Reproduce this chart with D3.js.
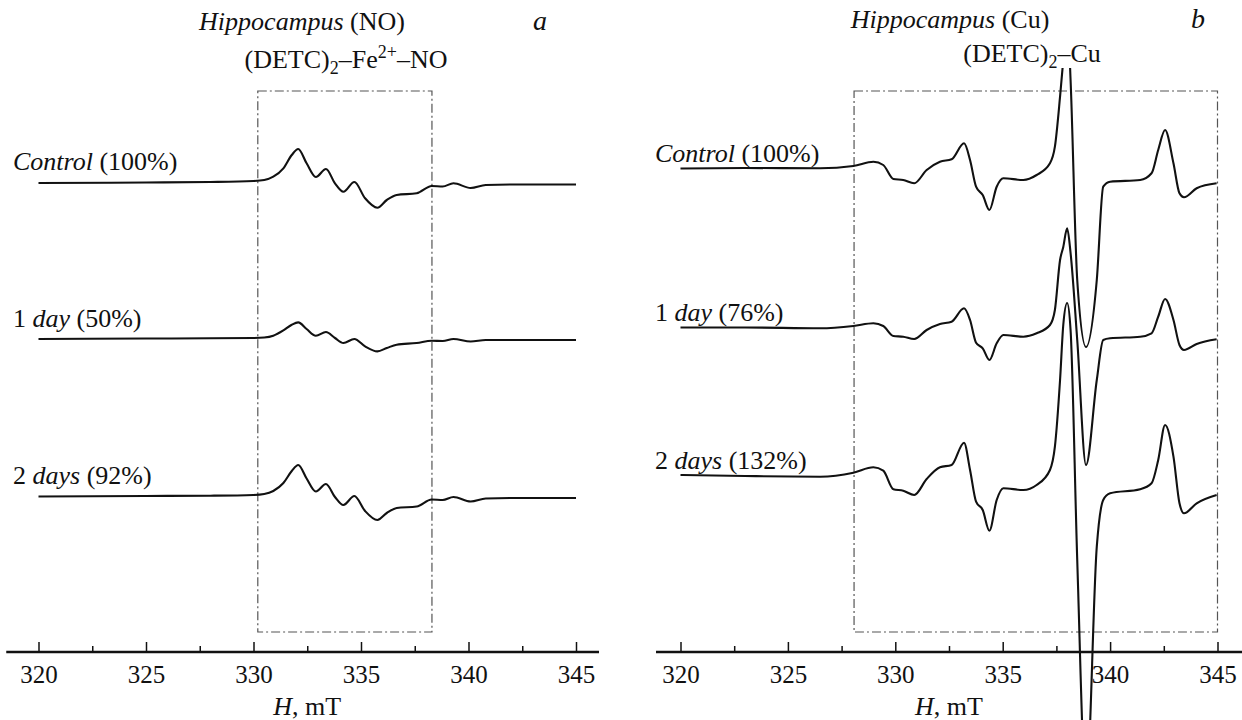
<!DOCTYPE html>
<html lang="en">
<head>
<meta charset="UTF-8">
<title>EPR spectra, hippocampus</title>
<script src="https://d3js.org/d3.v7.min.js"></script>
<style>
  body { margin: 0; background: #fff; }
  svg text { font-family: "Liberation Serif", "DejaVu Serif", serif; fill: #111; }
</style>
</head>
<body>
<svg id="chart" width="1242" height="720" font-family="Liberation Serif, DejaVu Serif, serif"></svg>
<script>
// field axis (mT)
const majorTicks = [320, 325, 330, 335, 340, 345];
const minorTicks = [322.5, 327.5, 332.5, 337.5, 342.5];

// panel a: (DETC)2-Fe2+-NO, signal relative to each trace baseline (a.u.)
const noField   = [320, 325, 328, 330, 330.5, 330.92, 331.39, 331.78, 332.08, 332.47, 332.9, 333.37, 333.79, 334.18, 334.69, 335.19, 335.76, 336.2, 336.66, 337.59, 338.29, 338.8, 339.3, 340.1, 340.8, 342, 345];
const noControl = [-2, -1.5, -1, 0, 1, 4.3, 12.7, 26, 32, 17.7, 4, 12, -2.3, -10.7, -1, -17.3, -26.7, -19, -14, -12.3, -5, -5.5, -2.3, -7, -4, -3.5, -3.5];
const noDay1    = [-1, -0.5, -0.3, 0, 0.5, 2.3, 7.6, 13.3, 15.6, 9, 2.3, 6, 0, -5, -1, -8.4, -13.4, -10, -6.7, -5, -2.7, -3, -1, -3.5, -2, -2, -2];
const noDays2   = [-1.5, -1, -0.7, 0, 1, 4, 12, 24, 30, 16.5, 3.5, 11, -2, -10, -1, -16, -25, -18, -13, -11.5, -4.5, -5, -2, -6.5, -3.5, -3, -3];
const noOffsets = [471, 314, 157];
const noPercents = ["(100%)", "(50%)", "(92%)"];

// panel b: (DETC)2-Cu
const cuField   = [320, 323, 326.5, 328.05, 328.98, 329.44, 329.91, 330.37, 330.88, 331.46, 332.08, 332.62, 333.2, 333.48, 333.76, 334.07, 334.38, 334.72, 335.03, 335.96, 336.58, 337.2, 337.43, 337.67, 337.82, 338.0, 338.16, 338.47, 338.88, 339.38, 339.68, 340.0, 341.4, 341.93, 342.24, 342.56, 342.95, 343.23, 343.44, 344.03, 344.96];
const cuControl = [-0.5, 0, -0.3, 2, 6.3, 3, -11, -12, -15.3, -2, 6.3, 8.7, 24.7, 8, -18.7, -27, -42, -18.7, -10.3, -12, -7, 4.7, 21.3, 71.3, 108, 158, 88, -112, -179, -112, -18.7, -13.7, -12, -5.3, 18, 38, 4.7, -25.3, -29.3, -20.3, -15.3];
const cuDay1    = [-0.5, -0.5, -1.3, 1, 3.7, 1, -9, -9.7, -12, -3, 3, 5.3, 18.7, 7, -15.7, -21.3, -33, -16.3, -8, -9.7, -6.3, 2, 17, 67, 80, 98.7, 74, -13, -138, -53, -13, -11.3, -9.7, -6.3, 10.3, 28, 7, -18, -23, -17, -12.3];
const cuDays2   = [0, -1, -1.7, 2.3, 7.7, 4.3, -14.3, -15.7, -20, -4, 7.7, 10, 32.3, 5, -26.7, -35, -55.7, -25, -13.3, -15, -10, 5, 28.3, 95, 150, 172, 145, -85, -315, -71.7, -25, -18.3, -14.3, -8.3, 15, 50, 18.3, -28.3, -38.3, -28.3, -20];
const cuOffsets = [484, 325, 177];
const cuPercents = ["(100%)", "(76%)", "(132%)"];

const labelLead = ["", "1 ", "2 "];
const labelItalic = ["Control", "day", "days"];

const serif = "Liberation Serif, DejaVu Serif, serif";
const svg = d3.select("#chart");
const axisY = 652;
const y = d3.scaleLinear().domain([0, 560]).range([axisY, 92]);

function drawPanel(opt) {
  const x = d3.scaleLinear().domain([320, 345]).range(opt.range);
  const g = svg.append("g").attr("font-family", serif);

  // region box, dash-dot
  g.append("rect")
    .attr("x", x(opt.box[0]))
    .attr("y", y(561))
    .attr("width", x(opt.box[1]) - x(opt.box[0]))
    .attr("height", y(20) - y(561))
    .attr("fill", "none")
    .attr("stroke", "#555")
    .attr("stroke-width", 1.2)
    .attr("stroke-dasharray", "9,3,2,3");

  svg.append("clipPath").attr("id", opt.id + "-clip")
    .append("rect")
    .attr("x", 0).attr("y", opt.clipTop)
    .attr("width", 1242).attr("height", 720 - opt.clipTop);

  const line = d3.line()
    .x(d => x(d[0]))
    .y(d => y(d[1]))
    .curve(d3.curveMonotoneX);

  opt.series.forEach((vals, i) => {
    const pts = opt.field.map((h, j) => [h, opt.offsets[i] + vals[j]]);
    g.append("path")
      .datum(pts)
      .attr("clip-path", `url(#${opt.id}-clip)`)
      .attr("d", line)
      .attr("fill", "none")
      .attr("stroke", "#111")
      .attr("stroke-width", 2.1);

    const t = g.append("text")
      .attr("x", opt.labelX)
      .attr("y", y(opt.offsets[i]) + opt.labelDy)
      .attr("font-family", serif)
      .attr("font-size", 26);
    t.append("tspan").text(labelLead[i]);
    t.append("tspan").attr("font-style", "italic").text(labelItalic[i]);
    t.append("tspan").text(" " + opt.percents[i]);
  });

  // axis line
  g.append("line")
    .attr("x1", x(opt.axisExtent[0])).attr("x2", x(opt.axisExtent[1]))
    .attr("y1", axisY).attr("y2", axisY)
    .attr("stroke", "#111").attr("stroke-width", 2.5);

  const major = g.append("g").attr("transform", `translate(0,${axisY})`)
    .call(d3.axisBottom(x).tickValues(majorTicks).tickSizeInner(-10).tickSizeOuter(0)
      .tickPadding(13).tickFormat(d3.format("d")));
  major.select(".domain").remove();
  major.attr("font-size", 25).attr("font-family", serif);
  major.selectAll(".tick text").attr("font-family", serif);
  major.selectAll(".tick line").attr("stroke", "#111").attr("stroke-width", 1.5);

  const minor = g.append("g").attr("transform", `translate(0,${axisY})`)
    .call(d3.axisBottom(x).tickValues(minorTicks).tickSizeInner(-6).tickSizeOuter(0).tickFormat(""));
  minor.select(".domain").remove();
  minor.selectAll(".tick line").attr("stroke", "#111").attr("stroke-width", 1.5);

  const xl = g.append("text")
    .attr("x", x(332.5)).attr("y", 715)
    .attr("text-anchor", "middle").attr("font-size", 26);
  xl.append("tspan").attr("font-style", "italic").text("H");
  xl.append("tspan").text(", mT");

  // titles
  const t1 = g.append("text")
    .attr("x", opt.titleX).attr("y", opt.titleY)
    .attr("text-anchor", "middle").attr("font-size", 26);
  t1.append("tspan").attr("font-style", "italic").text("Hippocampus");
  t1.append("tspan").text(" " + opt.probe);

  const t2 = g.append("text")
    .attr("x", opt.complexX).attr("y", opt.complexY)
    .attr("text-anchor", "middle").attr("font-size", 26);
  opt.complex.forEach(p => {
    const s = t2.append("tspan").text(p.t);
    if (p.dy) s.attr("dy", p.dy);
    if (p.small) s.attr("font-size", 18);
  });

  g.append("text")
    .attr("x", opt.letterX).attr("y", opt.titleY)
    .attr("font-size", 28).attr("font-style", "italic")
    .text(opt.letter);
}

drawPanel({
  id: "no",
  range: [38.5, 576],
  axisExtent: [318.5, 346.07],
  box: [330.2, 338.3],
  clipTop: 0,
  field: noField,
  series: [noControl, noDay1, noDays2],
  offsets: noOffsets,
  percents: noPercents,
  labelX: 13,
  labelDy: -11,
  titleX: 302,
  titleY: 30,
  probe: "(NO)",
  complexX: 346,
  complexY: 68,
  complex: [
    {t: "(DETC)"},
    {t: "2", dy: 6, small: true},
    {t: "–Fe", dy: -6},
    {t: "2+", dy: -10, small: true},
    {t: "–NO", dy: 10}
  ],
  letter: "a",
  letterX: 533
});

drawPanel({
  id: "cu",
  range: [680.5, 1217.5],
  axisExtent: [318.86, 346.2],
  box: [328.08, 345.0],
  clipTop: 68,
  field: cuField,
  series: [cuControl, cuDay1, cuDays2],
  offsets: cuOffsets,
  percents: cuPercents,
  labelX: 655,
  labelDy: -6,
  titleX: 950,
  titleY: 28,
  probe: "(Cu)",
  complexX: 1032,
  complexY: 62,
  complex: [
    {t: "(DETC)"},
    {t: "2", dy: 6, small: true},
    {t: "–Cu", dy: -6}
  ],
  letter: "b",
  letterX: 1191
});
</script>
</body>
</html>
